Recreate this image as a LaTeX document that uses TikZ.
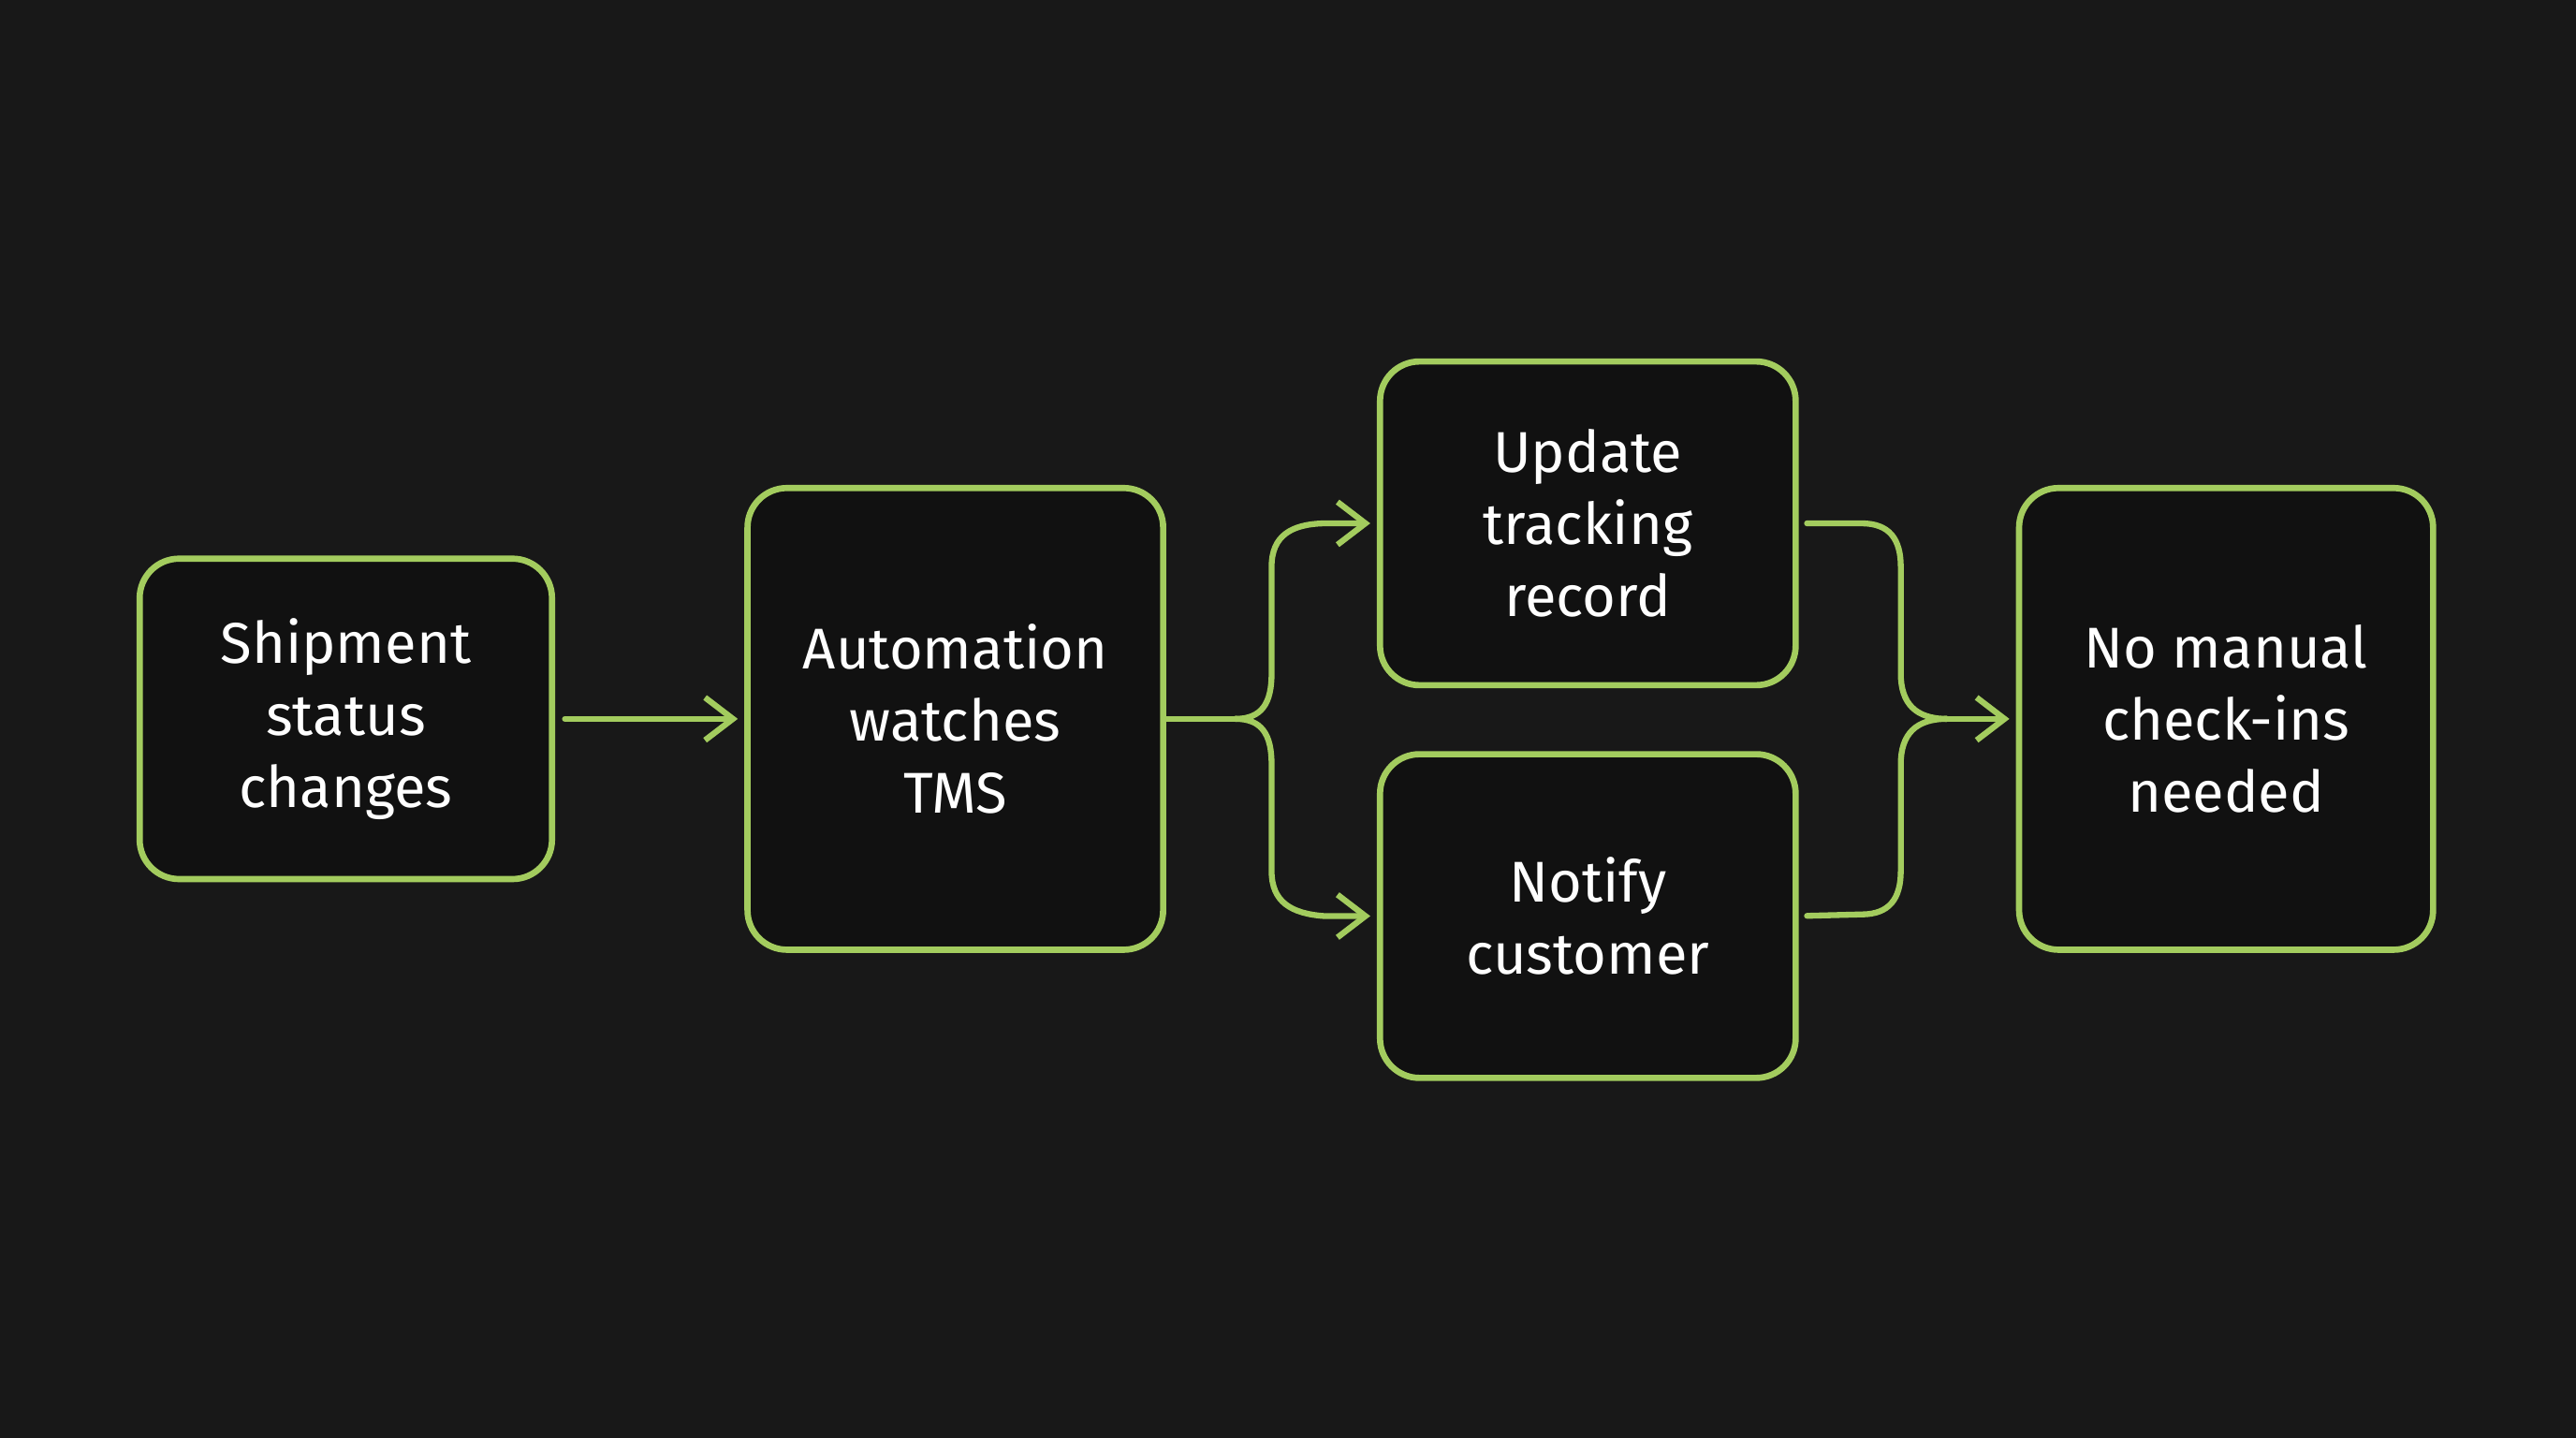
\documentclass[tikz,border=0pt]{standalone}
\usepackage{fontspec}
\setmainfont{Fira Sans}
\usetikzlibrary{arrows.meta}
\definecolor{bg}{HTML}{181818}
\definecolor{boxbg}{HTML}{111111}
\definecolor{grn}{HTML}{A3CC5E}
\tikzset{
  box/.style={draw=grn, line width=3.8pt, fill=boxbg, rounded corners=24pt,
    minimum width=251pt, text=white, align=center,
    font=\fontsize{35}{44}\selectfont},
  conn/.style={draw=grn, line width=3.6pt, line cap=round},
  tip/.style={-{Straight Barb[length=17pt,width=26pt]}},
}
\begin{document}
\begin{tikzpicture}[x=1pt,y=-1pt]
\fill[bg] (0,0) rectangle (1568,875);
\useasboundingbox (0,0) rectangle (1568,875);
\node[box, minimum height=195pt] (b1) at (210.5,437.5) {Shipment\\status\\changes};
\node[box, minimum height=281pt, minimum width=253pt] (b2) at (581.5,437.5) {Automation\\watches\\TMS};
\node[box, minimum height=197pt, minimum width=253pt] (b3) at (966.5,318.5) {Update\\tracking\\record};
\node[box, minimum height=197pt, minimum width=253pt] (b4) at (966.5,557.5) {Notify\\customer};
\node[box, minimum height=281pt, minimum width=252pt] (b5) at (1355,437.5) {No manual\\check-ins\\needed};
% first arrow
\draw[conn, tip, shorten <=6pt, shorten >=4pt] (b1.east) -- (b2.west);
% fork
\coordinate (fk) at (752,437.5);
\draw[conn] (b2.east) -- (fk);
\draw[conn, tip, shorten >=4pt] (fk) .. controls (768,437.5) and (774,428) .. (774,410) -- (774,345)
   .. controls (774,326) and (786,319) .. (806,318.5) -- (b3.west);
\draw[conn, tip, shorten >=4pt] (fk) .. controls (768,437.5) and (774,447) .. (774,465) -- (774,530)
   .. controls (774,549) and (786,556) .. (806,557.5) -- (b4.west);
% merge
\coordinate (mg) at (1185,437.5);
\draw[conn, shorten <=5pt] (b3.east) -- (1133,318.5) .. controls (1150,318.5) and (1157,328) .. (1157,345)
   -- (1157,410) .. controls (1157,428) and (1166,437.5) .. (mg);
\draw[conn, shorten <=5pt] (b4.east) -- (1133,556.5) .. controls (1150,556.5) and (1157,547) .. (1157,530)
   -- (1157,465) .. controls (1157,447) and (1166,437.5) .. (mg);
\draw[conn, tip, shorten >=4pt] (mg) -- (b5.west);
\end{tikzpicture}
\end{document}
